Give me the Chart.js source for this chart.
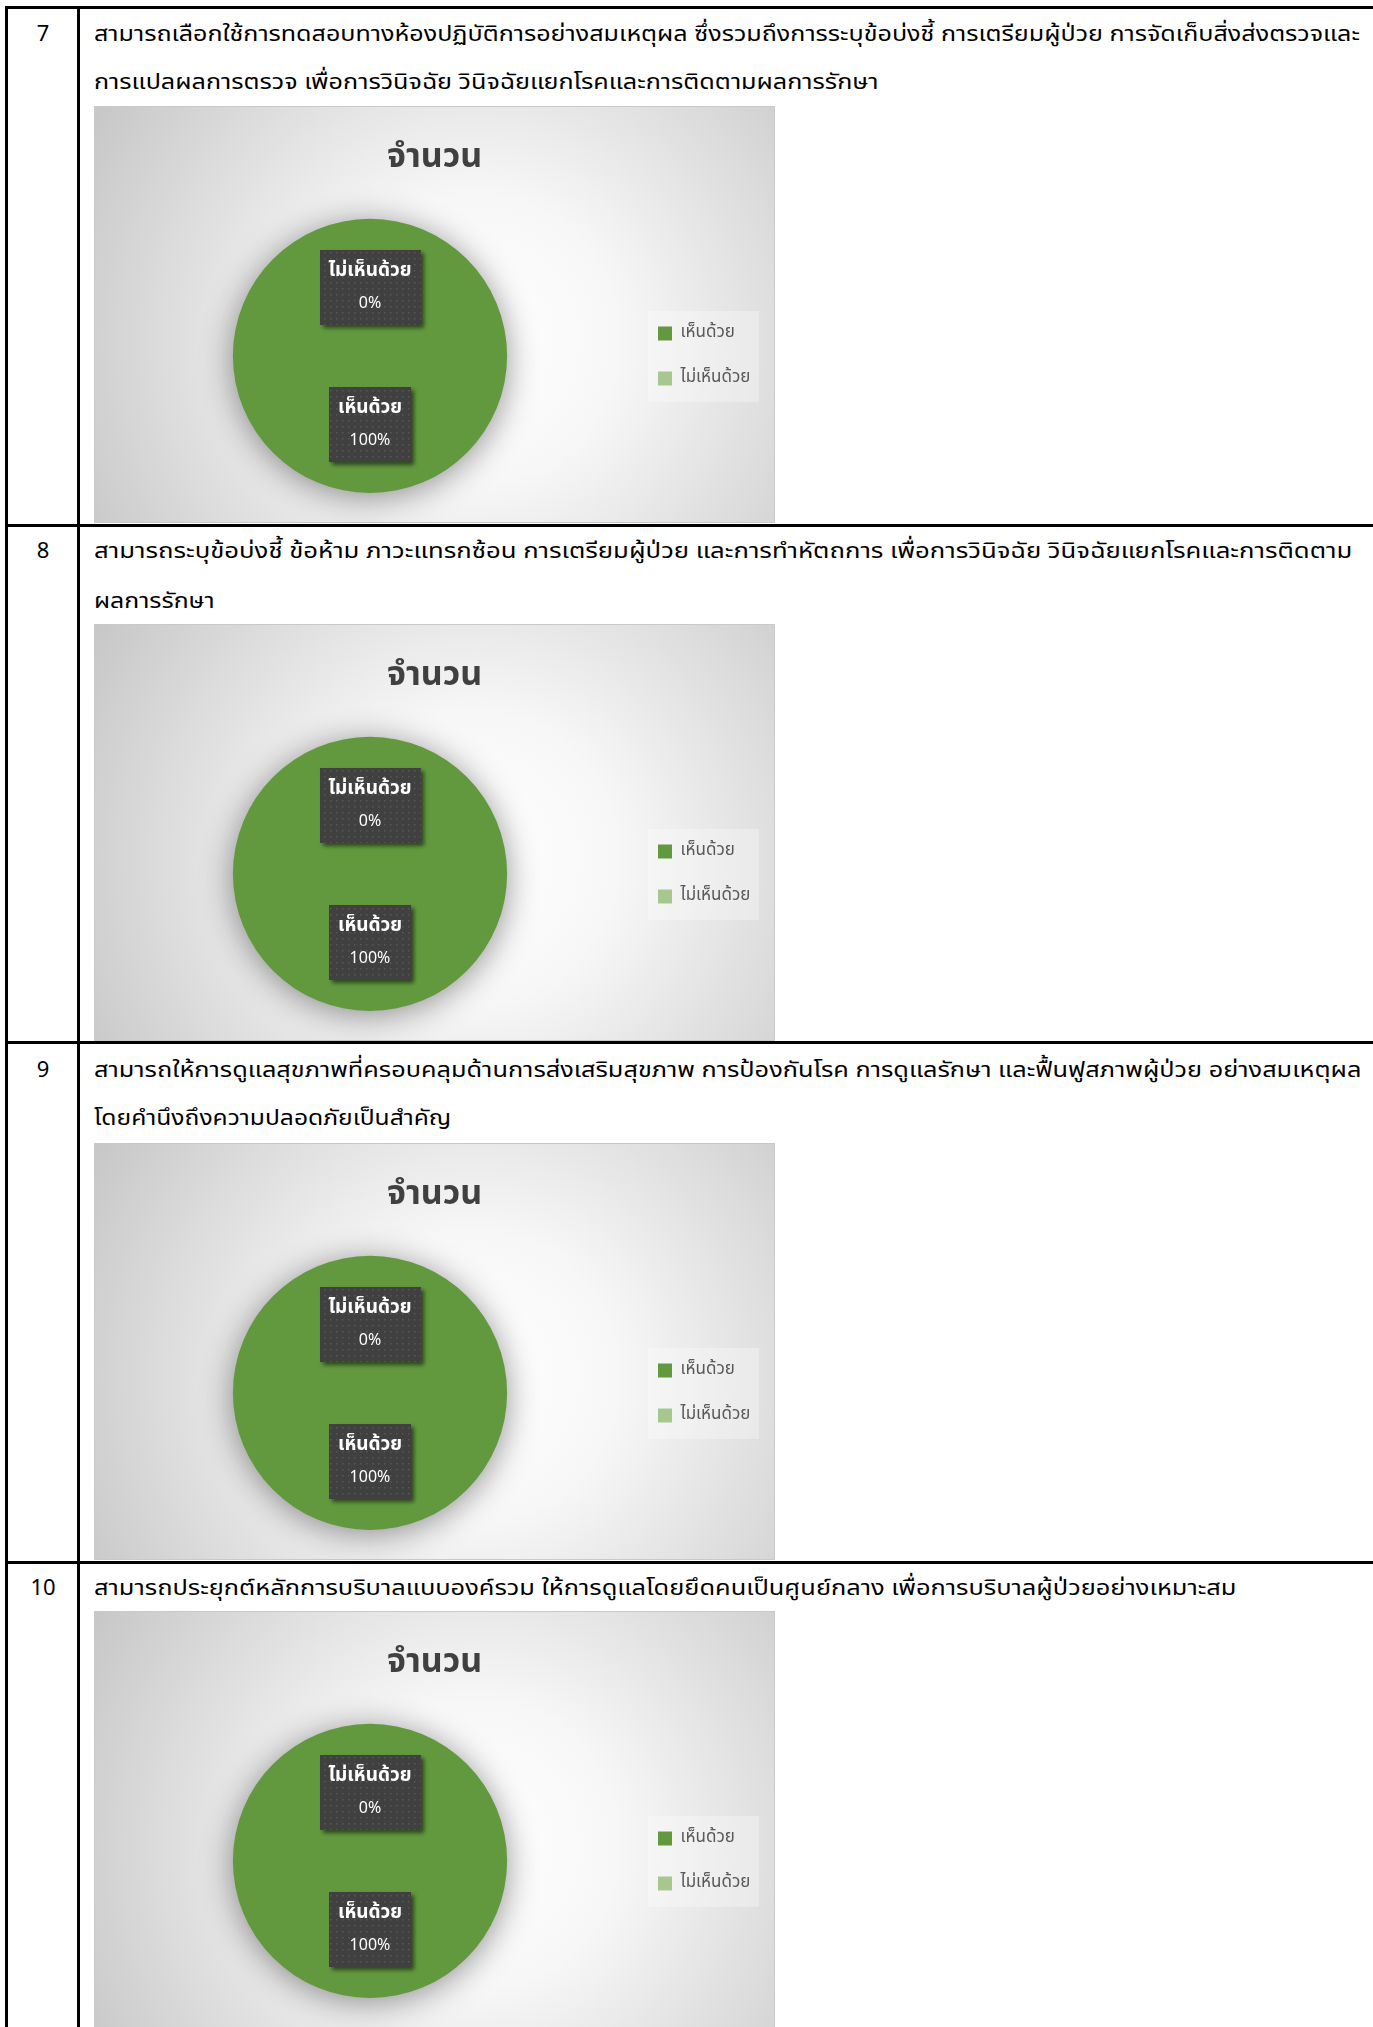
<!DOCTYPE html>
<html lang="th">
<head>
<meta charset="utf-8">
<title>จำนวน</title>
<script src="https://cdn.jsdelivr.net/npm/chart.js@4.4.1/dist/chart.umd.min.js"></script>
<style>
  html, body { margin: 0; padding: 0; background: #fff; }
  body {
    position: relative; width: 1373px; height: 2027px; overflow: hidden;
    font-family: "Noto Sans Thai", "Noto Sans Thai UI", Tahoma, "Noto Sans", sans-serif;
    color: #000;
  }
  .hline { position: absolute; left: 5px; right: 0; height: 3px; background: #000; }
  .vline { position: absolute; top: 6px; bottom: 0; width: 3px; background: #000; }
  .num { position: absolute; left: 8px; width: 70px; text-align: center; font-size: 22px; line-height: 30px; }
  .line { position: absolute; left: 94px; font-size: 22px; line-height: 30px; white-space: nowrap; transform-origin: 0 50%; }
  .box { position: absolute; left: 94px; width: 681px; height: 417px; }
</style>
</head>
<body>
<script>
const FONT = '"Noto Sans Thai", "Noto Sans Thai UI", Tahoma, "Noto Sans", sans-serif';

// data
const itemNumbers = ['7', '8', '9', '10'];
const itemLines = [
  ['สามารถเลือกใช้การทดสอบทางห้องปฏิบัติการอย่างสมเหตุผล ซึ่งรวมถึงการระบุข้อบ่งชี้ การเตรียมผู้ป่วย การจัดเก็บสิ่งส่งตรวจและ',
   'การแปลผลการตรวจ เพื่อการวินิจฉัย วินิจฉัยแยกโรคและการติดตามผลการรักษา'],
  ['สามารถระบุข้อบ่งชี้ ข้อห้าม ภาวะแทรกซ้อน การเตรียมผู้ป่วย และการทำหัตถการ เพื่อการวินิจฉัย วินิจฉัยแยกโรคและการติดตาม',
   'ผลการรักษา'],
  ['สามารถให้การดูแลสุขภาพที่ครอบคลุมด้านการส่งเสริมสุขภาพ การป้องกันโรค การดูแลรักษา และฟื้นฟูสภาพผู้ป่วย อย่างสมเหตุผล',
   'โดยคำนึงถึงความปลอดภัยเป็นสำคัญ'],
  ['สามารถประยุกต์หลักการบริบาลแบบองค์รวม ให้การดูแลโดยยึดคนเป็นศูนย์กลาง เพื่อการบริบาลผู้ป่วยอย่างเหมาะสม']
];
const categories = ['เห็นด้วย', 'ไม่เห็นด้วย'];
const agreeValues = [100, 100, 100, 100];
const disagreeValues = [0, 0, 0, 0];
const chartTitle = 'จำนวน';

// page layout (px)
const ruleTops = [6, 524, 1041, 1561];
const lineCenters = [[35, 83], [552, 602], [1071, 1119], [1589]];
const lineWidths = [[1266, 785], [1258, 121], [1267, 357], [1143]];
const chartTops = [106, 624, 1143, 1611];

function add(cls, css, text) {
  const d = document.createElement('div');
  d.className = cls;
  Object.assign(d.style, css);
  if (text) d.textContent = text;
  document.body.appendChild(d);
  return d;
}

add('vline', { left: '5px' });
add('vline', { left: '77px' });
ruleTops.forEach(y => add('hline', { top: y + 'px' }));

const fitList = [];
itemNumbers.forEach((n, i) => {
  add('num', { top: (lineCenters[i][0] - 15) + 'px' }, n);
  itemLines[i].forEach((t, j) => {
    const el = add('line', { top: (lineCenters[i][j] - 15) + 'px' }, t);
    fitList.push([el, lineWidths[i][j]]);
  });
});

function fitLines() {
  fitList.forEach(([el, w]) => {
    el.style.transform = 'none';
    el.style.transform = 'scaleX(' + (w / el.offsetWidth) + ')';
  });
}

let dotFill = null;
function dots(ctx) {
  if (!dotFill) {
    const c = document.createElement('canvas');
    c.width = 6; c.height = 6;
    const g = c.getContext('2d');
    g.fillStyle = '#404040'; g.fillRect(0, 0, 6, 6);
    g.fillStyle = '#575757'; g.fillRect(2, 2, 1.5, 1.5);
    dotFill = ctx.createPattern(c, 'repeat');
  }
  return dotFill;
}

const excelLook = {
  id: 'excelLook',
  beforeLayout(chart) {
    const lg = chart.legend;
    if (lg && !lg._fixed) {
      const fit = lg.fit;
      lg.fit = function () { fit.call(this); this.width = 145; };
      lg._fixed = true;
    }
  },
  afterLayout(chart) {
    // centre the title over the whole picture, as Excel does
    const t = chart.titleBlock;
    if (t) { t.left = 0; t.right = chart.width; t.width = chart.width; }
  },
  beforeDraw(chart) {
    const { ctx, width, height } = chart;
    const cx = width * 0.56, cy = height * 0.56;
    const g = ctx.createRadialGradient(cx, cy, 0, cx, cy, width * 0.7);
    g.addColorStop(0, '#ffffff');
    g.addColorStop(0.3, '#f7f7f7');
    g.addColorStop(1, '#c2c2c2');
    ctx.save();
    ctx.fillStyle = g;
    ctx.fillRect(0, 0, width, height);
    ctx.strokeStyle = '#c9c9c9';
    ctx.lineWidth = 1;
    ctx.strokeRect(0.5, 0.5, width - 1, height - 1);
    const lg = chart.legend;
    if (lg) {
      const my = (lg.top + lg.bottom) / 2;
      ctx.fillStyle = 'rgba(255,255,255,0.3)';
      ctx.fillRect(lg.left + 18, my - 45, 111, 91);
    }
    ctx.restore();
  },
  beforeDatasetsDraw(chart) {
    const ctx = chart.ctx;
    ctx.save();
    ctx.shadowColor = 'rgba(0,0,0,0.42)';
    ctx.shadowBlur = 32;
    ctx.shadowOffsetY = 4;
  },
  afterDatasetsDraw(chart) {
    const ctx = chart.ctx;
    ctx.restore();
    const ds = chart.data.datasets[0];
    const total = ds.data.reduce((a, b) => a + b, 0);
    chart.getDatasetMeta(0).data.forEach((arc, i) => {
      const p = arc.tooltipPosition();
      const name = chart.data.labels[i];
      const pct = Math.round(ds.data[i] / total * 100) + '%';
      ctx.save();
      ctx.font = 'bold 19px ' + FONT;
      const w = Math.round(ctx.measureText(name).width + 18);
      const h = 75;
      const x = Math.round(p.x - w / 2), y = Math.round(p.y - h / 2);
      ctx.shadowColor = 'rgba(0,0,0,0.55)';
      ctx.shadowBlur = 4;
      ctx.shadowOffsetX = 3;
      ctx.shadowOffsetY = 3;
      ctx.fillStyle = dots(ctx);
      ctx.fillRect(x, y, w, h);
      ctx.restore();
      ctx.save();
      ctx.fillStyle = '#ffffff';
      ctx.textAlign = 'center';
      ctx.textBaseline = 'middle';
      ctx.font = 'bold 19px ' + FONT;
      ctx.fillText(name, p.x, y + 22);
      ctx.font = '16px ' + FONT;
      ctx.fillText(pct, p.x, y + 55);
      ctx.restore();
    });
  }
};

function drawPie(i) {
  const box = add('box', { top: chartTops[i] + 'px' });
  const canvas = document.createElement('canvas');
  box.appendChild(canvas);
  new Chart(canvas, {
    type: 'pie',
    data: {
      labels: categories,
      datasets: [{
        data: [agreeValues[i], disagreeValues[i]],
        backgroundColor: ['#62993e', '#a6c88f'],
        borderWidth: 0,
        offset: 0,
        hoverOffset: 0
      }]
    },
    options: {
      responsive: true,
      maintainAspectRatio: false,
      animation: false,
      events: [],
      layout: { padding: { left: 16, right: 0, top: 0, bottom: 30 } },
      plugins: {
        title: {
          display: true,
          text: chartTitle,
          color: '#404040',
          font: { size: 34, weight: 'bold', family: FONT },
          padding: { top: 34, bottom: 38 }
        },
        legend: {
          position: 'right',
          fullSize: false,
          labels: {
            boxWidth: 14,
            boxHeight: 14,
            padding: 28,
            color: '#595959',
            font: { size: 17, family: FONT }
          }
        },
        tooltip: { enabled: false }
      }
    },
    plugins: [excelLook]
  });
}

itemNumbers.forEach((n, i) => drawPie(i));
fitLines();
document.fonts.ready.then(fitLines);
</script>
</body>
</html>
